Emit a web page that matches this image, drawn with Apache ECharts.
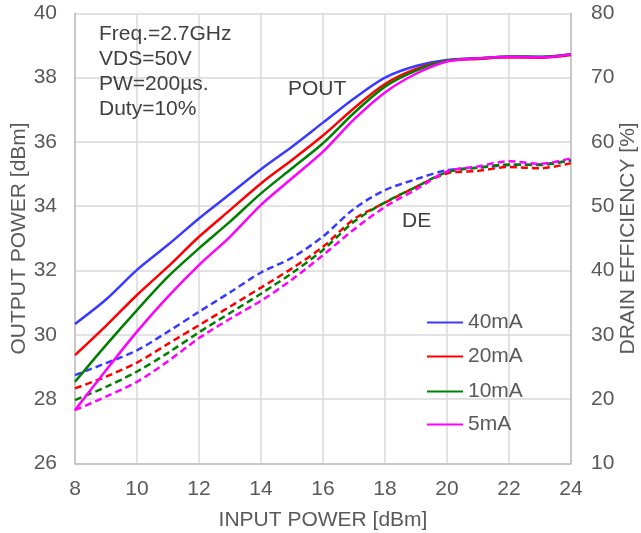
<!DOCTYPE html>
<html><head><meta charset="utf-8">
<script src="https://cdn.jsdelivr.net/npm/echarts@6/dist/echarts.min.js"></script>
<style>html,body{margin:0;padding:0;background:#fff}#c{width:641px;height:533px}</style>
</head><body><div id="c"></div>
<script>
const inputPower = [8,9,10,11,12,13,14,15,16,17,18,19,20,21,22,23,24];
const seriesNames = ['40mA','20mA','10mA','5mA'];
const colors = ['#3a3aff','#ff0000','#008000','#ff00ff'];
// Output power [dBm] (left axis)
const pout40 = [30.34,31.1,32.02,32.8,33.62,34.38,35.15,35.85,36.6,37.35,38.0,38.36,38.55,38.6,38.65,38.64,38.73];
const pout20 = [29.37,30.28,31.24,32.12,33.05,33.88,34.71,35.44,36.2,37.05,37.8,38.27,38.52,38.58,38.63,38.62,38.7];
const pout10 = [28.54,29.68,30.77,31.81,32.69,33.52,34.4,35.18,35.96,36.9,37.72,38.22,38.53,38.6,38.66,38.65,38.72];
const pout5  = [27.66,28.9,30.1,31.19,32.17,33.05,34.04,34.87,35.7,36.7,37.54,38.12,38.5,38.6,38.65,38.63,38.73];
// Drain efficiency [%] (right axis)
const de40 = [23.75,25.6,27.6,30.5,33.6,36.6,39.7,42.0,45.3,49.6,52.5,54.2,55.6,56.0,56.4,56.5,57.1];
const de20 = [21.68,23.5,25.7,28.6,31.5,34.4,37.35,40.34,43.7,48.0,50.55,53.0,55.1,55.5,56.1,55.9,56.7];
const de10 = [19.86,21.9,24.3,27.2,30.4,33.4,36.4,39.6,43.2,47.6,50.6,53.0,55.3,56.0,56.5,56.4,57.2];
const de5  = [18.3,20.4,22.7,25.9,29.5,32.5,35.3,38.6,42.4,46.4,49.9,52.6,55.4,56.2,57.0,56.6,57.45];
const xTicks = {min:8,max:24,interval:2};
const leftTicks = {min:26,max:40,interval:2};
const rightTicks = {min:10,max:80,interval:10};
const notes = ['Freq.=2.7GHz','VDS=50V','PW=200µs.','Duty=10%'];

const pouts = [pout40,pout20,pout10,pout5];
const des = [de40,de20,de10,de5];
const FONT = '"Liberation Sans", Arial, sans-serif';
const TXT = '#595959';

const series = [];
des.forEach((d,i)=>{
  series.push({name:'DE '+seriesNames[i], type:'line', yAxisIndex:1, showSymbol:false, symbol:'none',
    smooth:0.3,
    data: inputPower.map((x,k)=>[x,d[k]]), z: 2,
    lineStyle:{color:colors[i], width:2.5, type:[7,4]}, itemStyle:{color:colors[i]}});
});
pouts.forEach((d,i)=>{
  series.push({name:seriesNames[i], type:'line', yAxisIndex:0, showSymbol:false, symbol:'none',
    smooth:0.3,
    data: inputPower.map((x,k)=>[x,d[k]]), z: 3,
    lineStyle:{color:colors[i], width:2.5}, itemStyle:{color:colors[i]}});
});

const legendTops = [312, 346, 381, 414];
const legends = seriesNames.map((n,i)=>({
  data:[n], left:427, top:legendTops[i], padding:0, itemWidth:36, itemHeight:14, itemGap:4,
  icon:'path://M0,6 L36,6 L36,8 L0,8 Z',
  textStyle:{fontFamily:FONT, fontSize:21, color:TXT, padding:[0,0,0,0]},
  selectedMode:false
}));

const noteYs = [36.2, 60.9, 85.6, 110.3];
const graphics = notes.map((t,i)=>({type:'text', left:99, top:noteYs[i]-12, z:100,
  style:{text:t, font:'21px '+FONT, fill:'#404040'}}));
graphics.push({type:'text', left:288, top:79, z:100, style:{text:'POUT', font:'21px '+FONT, fill:'#404040'}});
graphics.push({type:'text', left:402, top:211, z:100, style:{text:'DE', font:'21px '+FONT, fill:'#404040'}});

const chart = echarts.init(document.getElementById('c'), null, {renderer:'canvas'});
chart.setOption({
  animation:false,
  backgroundColor:'#fff',
  grid:{left:75, right:70, top:13.3, bottom:69.5, containLabel:false, outerBoundsMode:'none'},
  legend: legends,
  xAxis:{type:'value', min:xTicks.min, max:xTicks.max, interval:xTicks.interval,
    name:'INPUT POWER [dBm]', nameLocation:'middle', nameGap:46, nameMoveOverlap:false,
    nameTextStyle:{fontFamily:FONT, fontSize:21, color:TXT},
    axisLine:{show:true, lineStyle:{color:'#bfbfbf', width:1.5}}, axisTick:{show:false},
    axisLabel:{fontFamily:FONT, fontSize:21, color:TXT, margin:15},
    splitLine:{show:true, lineStyle:{color:'#d9d9d9', width:1.5}}},
  yAxis:[
    {type:'value', position:'left', min:leftTicks.min, max:leftTicks.max, interval:leftTicks.interval,
     name:'OUTPUT POWER [dBm]', nameLocation:'middle', nameGap:45, nameMoveOverlap:false,
     nameTextStyle:{fontFamily:FONT, fontSize:21, color:TXT},
     axisLine:{show:true, lineStyle:{color:'#bfbfbf', width:1.5}}, axisTick:{show:false},
     axisLabel:{fontFamily:FONT, fontSize:21, color:TXT, margin:18},
     splitLine:{show:true, lineStyle:{color:'#d9d9d9', width:1.5}}},
    {type:'value', position:'right', min:rightTicks.min, max:rightTicks.max, interval:rightTicks.interval,
     name:'DRAIN EFFICIENCY [%]', nameLocation:'middle', nameGap:47, nameRotate:90, nameMoveOverlap:false,
     nameTextStyle:{fontFamily:FONT, fontSize:21, color:TXT},
     axisLine:{show:true, lineStyle:{color:'#bfbfbf', width:1.5}}, axisTick:{show:false},
     axisLabel:{fontFamily:FONT, fontSize:21, color:TXT, margin:20},
     splitLine:{show:false}}
  ],
  graphic: graphics,
  series: series
});
</script></body></html>
